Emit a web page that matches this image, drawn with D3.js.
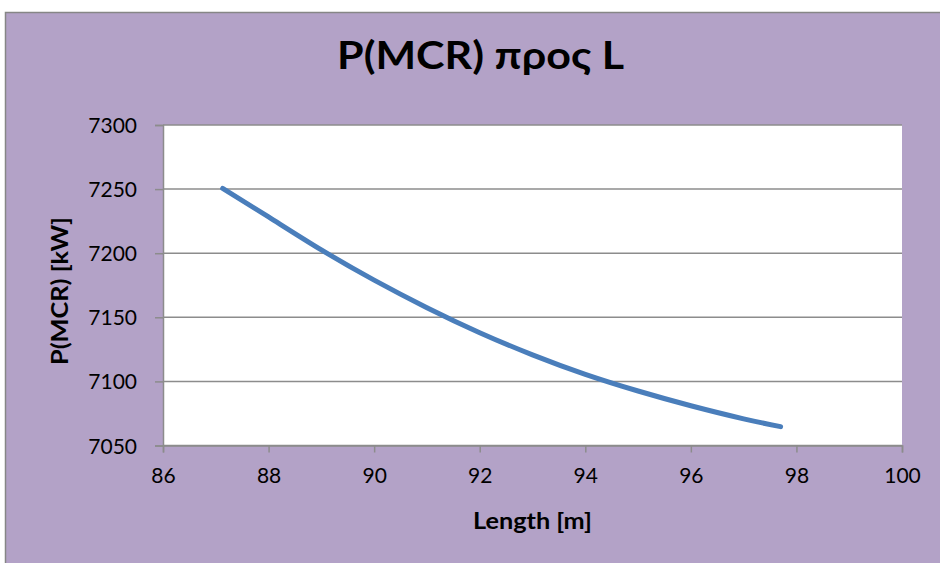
<!DOCTYPE html>
<html>
<head>
<meta charset="utf-8">
<script src="https://cdn.jsdelivr.net/npm/d3@7"></script>
<style>
  html, body { margin: 0; padding: 0; background: #fff; }
  svg text { font-family: Lato, "Open Sans", sans-serif; fill: #000; }
</style>
</head>
<body>
<div id="chart"></div>
<script>
// Values
const lengths = [87.13, 88, 89, 90, 91, 92, 93, 94, 95, 96, 97, 97.7];
const power = [7250.5, 7228.3, 7202.6, 7179, 7157.5, 7138, 7120.7, 7105.5, 7092.5, 7081, 7070.8, 7064.7];
const xTicks = [86, 88, 90, 92, 94, 96, 98, 100];
const yTicks = [7050, 7100, 7150, 7200, 7250, 7300];

const W = 940, H = 563;
const plot = { left: 163, right: 902, top: 125, bottom: 445.5 };

const svg = d3.select("#chart")
  .append("svg")
  .attr("width", W)
  .attr("height", H);

// Chart background
svg.append("rect")
  .attr("x", 5.5).attr("y", 12.5)
  .attr("width", W).attr("height", H)
  .attr("fill", "#B3A2C7")
  .attr("stroke", "#868686")
  .attr("stroke-width", 1.5);

// Plot area
svg.append("rect")
  .attr("x", plot.left).attr("y", plot.top)
  .attr("width", plot.right - plot.left)
  .attr("height", plot.bottom - plot.top)
  .attr("fill", "#fff");

const x = d3.scaleLinear().domain([86, 100]).range([plot.left, plot.right]);
const y = d3.scaleLinear().domain([7050, 7300]).range([plot.bottom, plot.top]);

// Gridlines
svg.append("g")
  .selectAll("line")
  .data(yTicks)
  .join("line")
  .attr("x1", plot.left).attr("x2", plot.right)
  .attr("y1", d => y(d)).attr("y2", d => y(d))
  .attr("stroke", "#8c8c8c")
  .attr("stroke-width", 1.5);

// Y axis
const yAxisG = svg.append("g")
  .attr("transform", `translate(${plot.left},0)`)
  .call(d3.axisLeft(y).tickValues(yTicks).tickSize(8).tickPadding(18).tickFormat(d3.format("d")));

// X axis
const xAxisG = svg.append("g")
  .attr("transform", `translate(0,${plot.bottom})`)
  .call(d3.axisBottom(x).tickValues(xTicks).tickSize(7).tickPadding(16).tickFormat(d3.format("d")));

[yAxisG, xAxisG].forEach(g => {
  g.select(".domain").attr("stroke", "#8c8c8c").attr("stroke-width", 1.5);
  g.selectAll(".tick line").attr("stroke", "#8c8c8c").attr("stroke-width", 1.5);
  g.selectAll(".tick text")
    .attr("fill", "#000")
    .style("font-family", "Lato, 'Open Sans', sans-serif")
    .style("font-size", "21px");
});
yAxisG.selectAll(".tick text").attr("dy", "0.36em");

// Line
const line = d3.line()
  .x((d, i) => x(lengths[i]))
  .y(d => y(d))
  .curve(d3.curveNatural);

svg.append("path")
  .datum(power)
  .attr("d", line)
  .attr("fill", "none")
  .attr("stroke", "#4A7EBB")
  .attr("stroke-width", 5)
  .attr("stroke-linecap", "round")
  .attr("stroke-linejoin", "round");

// Title
svg.append("text")
  .attr("x", 480.5).attr("y", 69)
  .attr("text-anchor", "middle")
  .attr("font-weight", "bold")
  .attr("font-size", 38)
  .attr("textLength", 287)
  .attr("lengthAdjust", "spacingAndGlyphs")
  .text("P(MCR) προς L");

// Axis titles
svg.append("text")
  .attr("x", (plot.left + plot.right) / 2).attr("y", 529)
  .attr("text-anchor", "middle")
  .attr("font-weight", "bold")
  .attr("font-size", 22)
  .attr("textLength", 119)
  .attr("lengthAdjust", "spacingAndGlyphs")
  .text("Length [m]");

svg.append("text")
  .attr("transform", "translate(68,291) rotate(-90)")
  .attr("text-anchor", "middle")
  .attr("font-weight", "bold")
  .attr("font-size", 22)
  .attr("textLength", 148)
  .attr("lengthAdjust", "spacingAndGlyphs")
  .text("P(MCR) [kW]");
</script>
</body>
</html>
